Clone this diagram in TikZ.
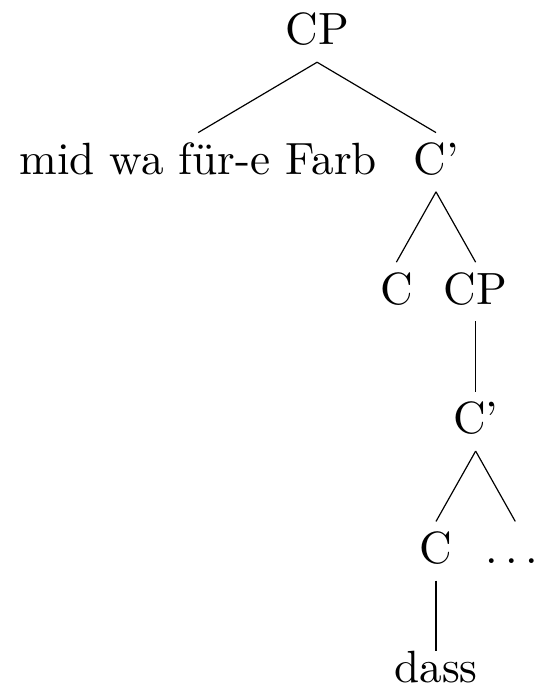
\documentclass[tikz,border=0pt]{standalone}
\usepackage{tikz}
\usepackage{graphicx}
\usetikzlibrary{positioning}
\newcommand{\treelbl}[1]{\scalebox{2.28}{#1}}
\tikzstyle{cat} = [draw=none, fill=none, inner sep=0pt, text height=21pt, text depth=8.5pt, text centered]
\tikzstyle{word} = [cat, text height=15.5pt]
\tikzstyle{branch} = [draw, line width=0.6pt]

\begin{document}
\begin{tikzpicture}[node distance=35.5pt]

% nodes =============================
\node[cat] (CP) {\treelbl{CP}};
\node[cat, below=of CP, xshift=-60pt] (Farb) {\treelbl{mid wa für-e Farb}};
\node[cat, below=of CP, xshift=60pt] (Cbar) {\treelbl{C'}};
\node[cat, below=of Cbar, xshift=-20pt] (C) {\treelbl{C}};
\node[cat, below=of Cbar, xshift=20pt] (CPlow) {\treelbl{CP}};
\node[cat, below=of CPlow] (Cbarlow) {\treelbl{C'}};
\node[cat, below=of Cbarlow, xshift=-20pt] (Clow) {\treelbl{C}};
\node[cat, below=of Cbarlow, xshift=20pt] (rest) {\treelbl{.\kern\fontdimen3\font.\kern\fontdimen3\font.\kern\fontdimen3\font}};
\node[word, below=of Clow] (dass) {\treelbl{dass}};

% edges
\path[branch] (CP.south) edge (Farb.north);
\path[branch] (CP.south) edge (Cbar.north);
\path[branch] (Cbar.south) edge (C.north);
\path[branch] (Cbar.south) edge (CPlow.north);
\path[branch] (CPlow.south) edge (Cbarlow.north);
\path[branch] (Cbarlow.south) edge (Clow.north);
\path[branch] (Cbarlow.south) edge (rest.north);
\path[branch] (Clow.south) edge (dass.north);

\path[use as bounding box] (CP.north) ++(-160pt,1.5pt) rectangle ++(271pt,-349.5pt);

\end{tikzpicture}
\end{document}
